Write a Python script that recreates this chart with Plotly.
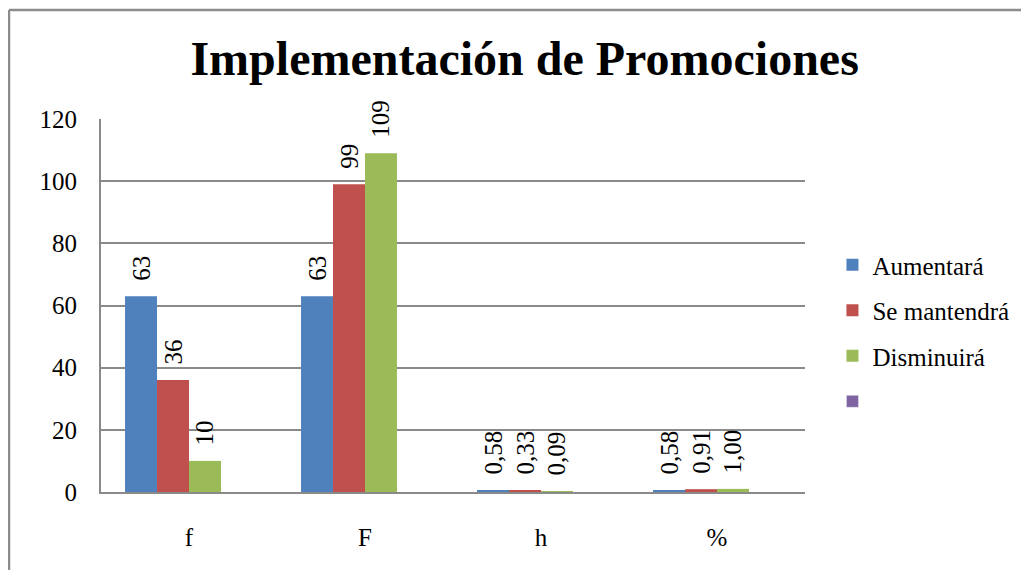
"""Bar chart: Implementación de Promociones."""

import plotly.graph_objects as go

categories = ["f", "F", "h", "%"]
aumentara = [63, 63, 0.58, 0.58]
se_mantendra = [36, 99, 0.33, 0.91]
disminuira = [10, 109, 0.09, 1.00]
decimals = [0, 0, 2, 2]  # label format per category
y_ticks = [0, 20, 40, 60, 80, 100, 120]

FONT = "Liberation Serif"
GRID = "#8a8a8a"


def labels(values):
    # Excel-style labels with decimal comma, small gap before the number
    out = []
    for v, d in zip(values, decimals):
        s = f"{v:.{d}f}".replace(".", ",")
        out.append("\u00a0\u00a0" + s)
    return out


series = [
    ("Aumentará", aumentara, "#4F81BD"),
    ("Se mantendrá", se_mantendra, "#C0504D"),
    ("Disminuirá", disminuira, "#9BBB59"),
]

fig = go.Figure()
for i, (name, vals, color) in enumerate(series):
    fig.add_trace(go.Bar(
        x=categories, y=vals, name=name,
        marker=dict(color=color, line=dict(width=0)),
        text=labels(vals), textposition="outside", textangle=-90,
        constraintext="none", cliponaxis=False,
        textfont=dict(family=FONT, size=25, color="black"),
        legendgroup=f"g{i}", hoverinfo="x+y",
    ))

# empty fourth series (keeps its slot in each group, shows in legend)
fig.add_trace(go.Bar(
    x=categories, y=[None] * len(categories), name=" ",
    marker=dict(color="#8064A2"), legendgroup="g3", showlegend=True,
))

# page has an 8px body margin, so the figure is 8px smaller than the window
fig.update_layout(
    width=1021, height=562,
    margin=dict(l=93, r=224, t=111, b=78),
    paper_bgcolor="white", plot_bgcolor="white",
    barmode="group", bargap=0.273, bargroupgap=0,
    font=dict(family=FONT, size=25, color="black"),
    title=dict(
        text="<b>Implementación de Promociones</b>",
        font=dict(family=FONT, size=48, color="black"),
        x=0.506, xref="container", xanchor="center",
        y=0.911, yref="container", yanchor="middle",
    ),
    legend=dict(
        x=1.039, xanchor="left", y=0.426, yanchor="middle",
        font=dict(family=FONT, size=25), tracegroupgap=10,
        bgcolor="rgba(0,0,0,0)",
    ),
    showlegend=True,
    shapes=[
        dict(type="line", xref="paper", yref="paper",
             x0=-0.1307, x1=-0.1307, y0=-0.25, y1=1.2922,
             line=dict(color="#8c8c8c", width=2.5)),
        dict(type="line", xref="paper", yref="paper",
             x0=-0.1307, x1=1.35, y0=1.2922, y1=1.2922,
             line=dict(color="#8c8c8c", width=2.5)),
    ],
)

fig.update_xaxes(
    showgrid=False, showline=True, linecolor=GRID, linewidth=2,
    ticks="", ticklabelstandoff=22,
    tickfont=dict(family=FONT, size=25),
)
fig.update_yaxes(
    range=[0, 120], tickvals=y_ticks,
    showgrid=True, gridcolor=GRID, gridwidth=1.5,
    showline=True, linecolor=GRID, linewidth=2,
    zeroline=False, ticks="", ticklabelstandoff=17,
    tickfont=dict(family=FONT, size=25),
)

fig.write_html("out.html")
